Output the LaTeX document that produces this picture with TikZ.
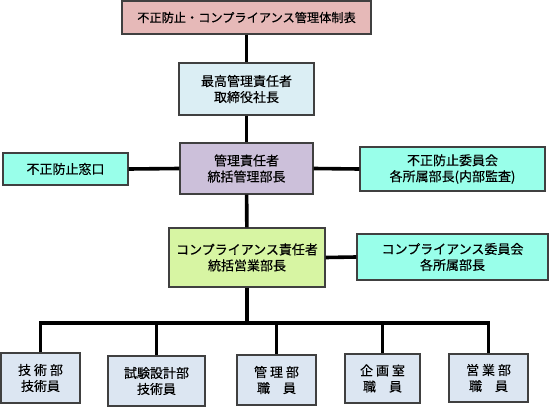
\documentclass[tikz,border=0pt]{standalone}
\usepackage{fontspec}
\setmainfont{Noto Sans CJK JP}[FakeBold=0.35]
\definecolor{pinkbox}{HTML}{E6B9B8}
\definecolor{bluebox}{HTML}{DBEEF4}
\definecolor{lilacbox}{HTML}{CCC0DA}
\definecolor{aquabox}{HTML}{99FFEA}
\definecolor{greenbox}{HTML}{D7F5A3}
\definecolor{greybox}{HTML}{DCE6F2}
\tikzset{
  orgbox/.style={draw=black!75, line width=1.2pt, align=center, inner sep=0pt,
    font=\fontsize{13}{16}\selectfont},
  link/.style={line width=3.6pt}
}
\begin{document}
\begin{tikzpicture}[x=1pt,y=-1pt]
        \useasboundingbox (0,0) rectangle (550,407);
        \node[orgbox, fill=pinkbox, minimum width=249pt, minimum height=33pt, font=\fontsize{12.2}{16}\selectfont] (title) at (246.5,17.5) {不正防止・コンプライアンス管理体制表};
        \node[orgbox, fill=bluebox, minimum width=135pt, minimum height=52pt] (top) at (246.5,89) {最高管理責任者\\取締役社長};
        \node[orgbox, fill=lilacbox, minimum width=133pt, minimum height=51pt] (mgr) at (246.5,168.5) {管理責任者\\統括管理部長};
        \node[orgbox, fill=aquabox, minimum width=125pt, minimum height=32pt] (desk) at (65.5,169) {不正防止窓口};
        \node[orgbox, fill=aquabox, minimum width=185pt, minimum height=44pt] (fraud) at (452.5,169) {不正防止委員会\\各所属部長(内部監査)};
        \node[orgbox, fill=greenbox, minimum width=156pt, minimum height=59pt] (comp) at (247,257.5) {コンプライアンス責任者\\統括営業部長};
        \node[orgbox, fill=aquabox, minimum width=191pt, minimum height=46pt] (compc) at (452.5,257) {コンプライアンス委員会\\各所属部長};
        \coordinate (bus) at (247,323);
        % departments
        \node[orgbox, fill=greybox, minimum width=79pt, minimum height=50pt] (tech) at (40.5,378) {技 術 部\\技術員};
        \node[orgbox, fill=greybox, minimum width=97pt, minimum height=50pt] (test) at (156.5,381) {試験設計部\\技術員};
        \node[orgbox, fill=greybox, minimum width=79pt, minimum height=50pt] (admin) at (276.5,380) {管 理 部\\職\quad 員};
        \node[orgbox, fill=greybox, minimum width=75pt, minimum height=49pt] (plan) at (382.5,378.5) {企 画 室\\職\quad 員};
        \node[orgbox, fill=greybox, minimum width=79pt, minimum height=48pt] (sales) at (488.5,378) {営 業 部\\職\quad 員};
        % links
        \draw[link] (title) -- (top);
        \draw[link] (top) -- (mgr);
        \draw[link] (mgr) -- (comp);
        \draw[link] (mgr.west) -- (desk.east);
        \draw[link] (mgr.east) -- (fraud.west);
        \draw[link] (comp.east) -- (compc.west);
        \draw[link] (comp.south) -- (bus);
        \draw[link] (bus) -| (tech.north);
        \draw[link] (bus) -| (test.north);
        \draw[link] (bus) -| (admin.north);
        \draw[link] (bus) -| (plan.north);
        \draw[link] (bus) -| (sales.north);
\end{tikzpicture}
\end{document}
